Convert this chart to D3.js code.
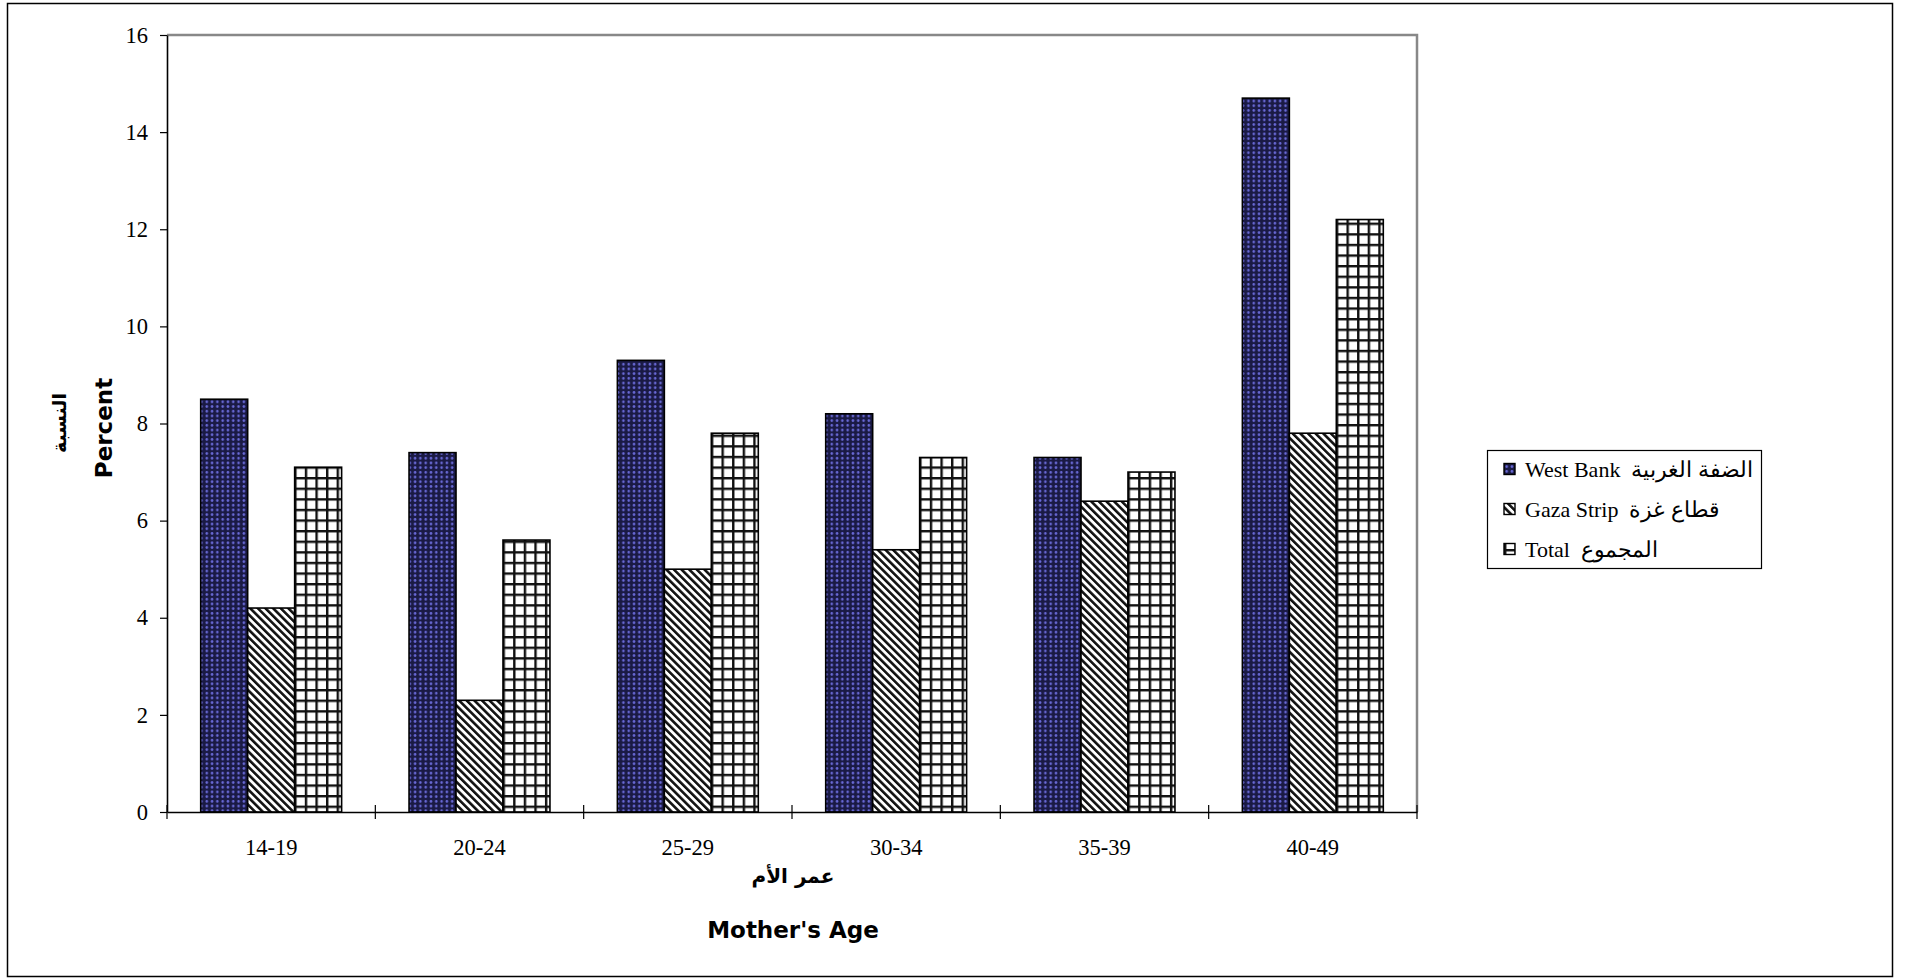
<!DOCTYPE html>
<html><head><meta charset="utf-8">
<script src="https://cdn.jsdelivr.net/npm/d3@7/dist/d3.min.js"></script>
<style>body{margin:0;background:#fff;overflow:hidden}</style>
</head><body><svg id="c" width="1912" height="979"></svg>
<script>
const categories = ["14-19","20-24","25-29","30-34","35-39","40-49"];
const seriesNames = ["West Bank","Gaza Strip","Total"];
const seriesLabelsAr = ["الضفة الغربية","قطاع غزة","المجموع"];
const westBank = [8.5,7.4,9.3,8.2,7.3,14.7];
const gazaStrip = [4.2,2.3,5.0,5.4,6.4,7.8];
const total = [7.1,5.6,7.8,7.3,7.0,12.2];
const yTicks = [0,2,4,6,8,10,12,14,16];
const yTitleEn = "Percent", yTitleAr = "النسبة";
const xTitleEn = "Mother's Age", xTitleAr = "عمر الأم";

const seriesValues = [westBank, gazaStrip, total];
const patIds = ["pWB","pGZ","pTT"];

const svg = d3.select("#c");
const L = 167, R = 1417, T = 35, B = 812;
const serif = "'Liberation Serif','Times New Roman',serif";
const sansB = "'DejaVu Sans',sans-serif";

// patterns
const defs = svg.append("defs");
const p1 = defs.append("pattern").attr("id","pWB").attr("patternUnits","userSpaceOnUse")
  .attr("width",5.3).attr("height",4.7);
p1.append("rect").attr("width",5.3).attr("height",4.7).attr("fill","#1a1a44");
p1.append("circle").attr("cx",2.65).attr("cy",2.35).attr("r",1.3).attr("fill","#6a6ad8");
const p2 = defs.append("pattern").attr("id","pGZ").attr("patternUnits","userSpaceOnUse")
  .attr("width",5.4).attr("height",10).attr("patternTransform","rotate(-45)");
p2.append("rect").attr("width",5.4).attr("height",10).attr("fill","#fff");
p2.append("rect").attr("width",2.6).attr("height",10).attr("fill","#111");
const p3 = defs.append("pattern").attr("id","pTT").attr("patternUnits","userSpaceOnUse")
  .attr("width",10.6).attr("height",10.6);
p3.append("rect").attr("width",10.6).attr("height",10.6).attr("fill","#fff");
p3.append("rect").attr("width",2.4).attr("height",10.6).attr("fill","#111");
p3.append("rect").attr("width",10.6).attr("height",2.4).attr("fill","#111");

// outer border
svg.append("rect").attr("x",7.5).attr("y",3.5).attr("width",1885).attr("height",973)
  .attr("fill","none").attr("stroke","#000").attr("stroke-width",1.5);

const x0 = d3.scaleBand().domain(categories).range([L,R]).paddingInner(0).paddingOuter(0);
const bw = x0.bandwidth();
const x1 = d3.scaleBand().domain(seriesNames).range([bw*0.1618, bw*0.8382]).padding(0);
const y = d3.scaleLinear().domain([0,16]).range([B,T]);

// frame top/right gray
svg.append("path").attr("d",`M${L},${T}H${R}V${B}`).attr("fill","none")
  .attr("stroke","#888").attr("stroke-width",2.5);

// bars
const groups = svg.append("g").selectAll("g").data(categories).join("g")
  .attr("transform",d=>`translate(${x0(d)},0)`);
groups.selectAll("rect").data((d,i)=>seriesNames.map((s,j)=>({s,j,v:seriesValues[j][i]})))
  .join("rect")
  .attr("x",d=>x1(d.s)).attr("width",x1.bandwidth())
  .attr("y",d=>y(d.v)).attr("height",d=>B-y(d.v))
  .attr("fill",d=>`url(#${patIds[d.j]})`)
  .attr("stroke","#000").attr("stroke-width",1.6);

// y axis
const ya = svg.append("g").attr("transform",`translate(${L},0)`)
  .call(d3.axisLeft(y).tickValues(yTicks).tickSize(7).tickSizeOuter(0).tickPadding(12).tickFormat(d3.format("d")));
ya.select(".domain").attr("stroke","#000").attr("stroke-width",1.6);
ya.selectAll(".tick line").attr("stroke","#000").attr("stroke-width",1.2);
ya.selectAll("text").attr("font-family",serif).attr("font-size",22.5).attr("fill","#000");

// x axis
const xa = svg.append("g").attr("transform",`translate(0,${B})`)
  .call(d3.axisBottom(x0).tickSize(0).tickSizeOuter(0));
xa.select(".domain").attr("stroke","#000").attr("stroke-width",1.6);
xa.selectAll("text").attr("font-family",serif).attr("font-size",22.5).attr("fill","#000")
  .attr("y",43).attr("dy",0);
const bounds = categories.map(c=>x0(c)).concat([R]);
svg.append("g").selectAll("line").data(bounds).join("line")
  .attr("x1",d=>d).attr("x2",d=>d).attr("y1",B-7).attr("y2",B+7)
  .attr("stroke","#000").attr("stroke-width",1.2);

// titles
const xc = (L+R)/2 + 168;
svg.append("text").attr("x",793).attr("y",883).attr("text-anchor","middle")
  .attr("font-family",sansB).attr("font-weight","bold").attr("font-size",20).text(xTitleAr);
svg.append("text").attr("x",793).attr("y",938).attr("text-anchor","middle")
  .attr("font-family",sansB).attr("font-weight","bold").attr("font-size",23).text(xTitleEn);
svg.append("text").attr("transform","translate(112,428) rotate(-90)").attr("text-anchor","middle")
  .attr("font-family",sansB).attr("font-weight","bold").attr("font-size",23).text(yTitleEn);
svg.append("text").attr("transform","translate(66,423) rotate(-90)").attr("text-anchor","middle")
  .attr("font-family",sansB).attr("font-weight","bold").attr("font-size",19).text(yTitleAr);

// legend
const lg = svg.append("g");
lg.append("rect").attr("x",1487.5).attr("y",450.5).attr("width",274).attr("height",118)
  .attr("fill","#fff").attr("stroke","#000").attr("stroke-width",1.2);
const ly = d3.scalePoint().domain(seriesNames).range([469,549]);
const items = lg.selectAll("g").data(seriesNames).join("g")
  .attr("transform",d=>`translate(1504,${ly(d)})`);
items.append("rect").attr("x",0).attr("y",-5.5).attr("width",11).attr("height",11)
  .attr("fill",(d,i)=>`url(#${patIds[i]})`).attr("stroke","#000").attr("stroke-width",1.4);
items.append("text").attr("x",21).attr("y",7.5)
  .attr("font-family",serif).attr("font-size",22).attr("fill","#000")
  .text((d,i)=>d+"\u00a0\u00a0"+seriesLabelsAr[i]);
</script></body></html>
